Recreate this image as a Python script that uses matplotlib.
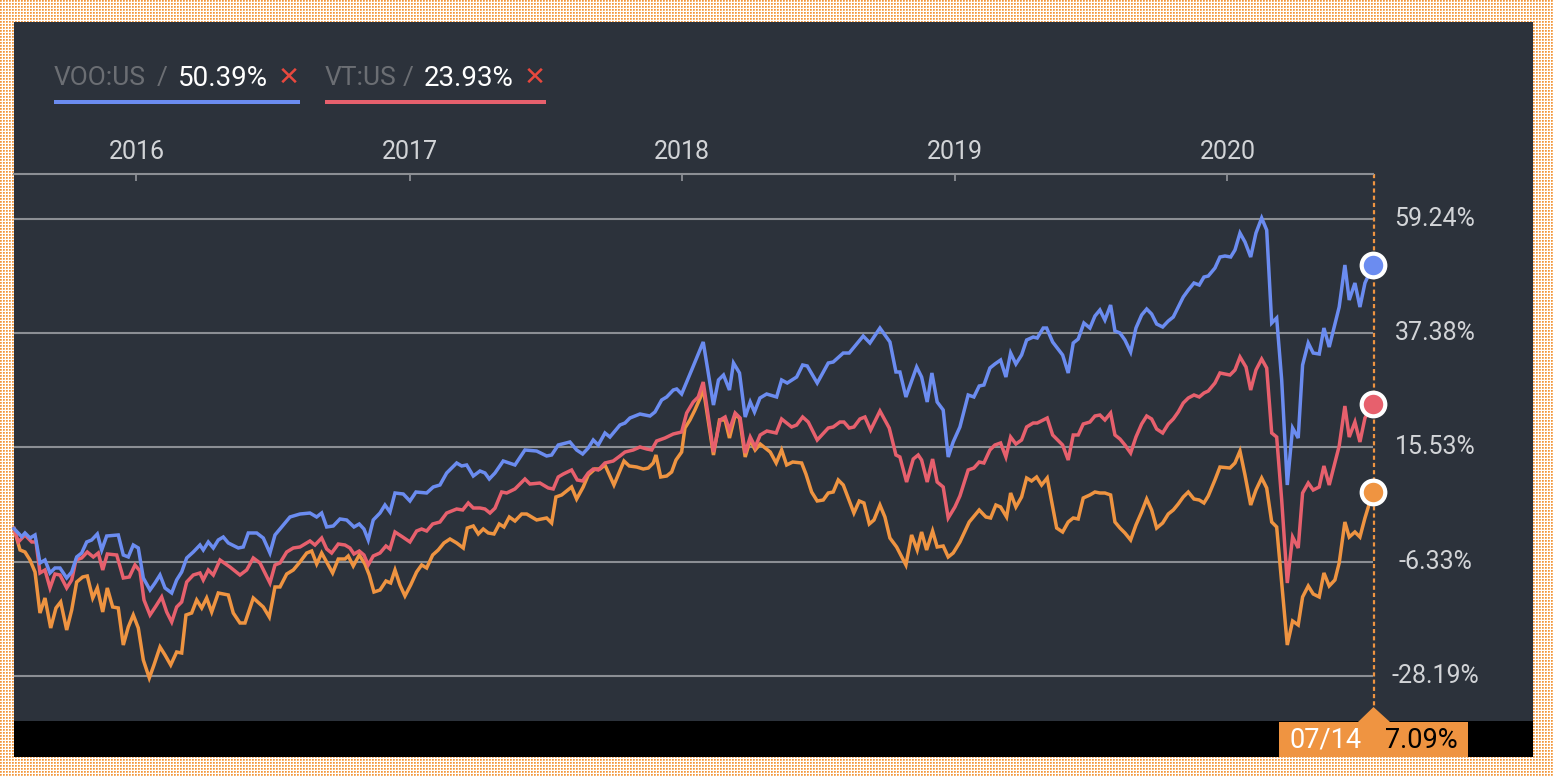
import numpy as np
import pandas as pd
import matplotlib
matplotlib.use('Agg')
import matplotlib.pyplot as plt
import matplotlib.dates as mdates
from matplotlib.patches import Rectangle, Polygon
from matplotlib.lines import Line2D

plt.rcParams['font.family'] = ['Roboto', 'DejaVu Sans']
plt.rcParams['lines.scale_dashes'] = False

# ---------------- data (weekly, weeks since start date, cumulative % change) ----------------
START = pd.Timestamp('2015-07-21')

voo_weeks = [0, 1.47, 2.10, 3.06, 4.02, 4.97, 5.93, 6.89, 7.84, 8.80, 10.08, 11.04, 11.99, 12.95, 13.91,
             14.86, 15.94, 16.78, 17.73, 19.95, 20.91, 21.87, 22.82, 23.78, 24.74, 26.02, 26.97, 27.93,
             28.89, 30.17, 31.12, 32.08, 33.04, 34.30, 35.58, 36.21, 37.17, 38.13, 39.08, 40.04, 41.00,
             42.91, 43.86, 44.82, 46.43, 47.69, 48.97, 49.93, 51.52, 52.80, 54.71, 56.62, 57.90, 58.86,
             59.82, 61.08, 62.36, 63.64, 65.04, 66.05, 66.95, 67.77, 68.73, 70.02, 70.97, 71.93, 72.89,
             74.47, 75.75, 76.90, 78.95, 80.21, 81.49, 82.78, 84.69, 85.65, 86.60, 87.87, 89.15, 90.10,
             90.93, 92.02, 93.60, 95.84, 97.75, 99.99, 101.90, 102.86, 104.12, 106.36, 107.64, 108.79,
             109.86, 110.82, 111.78, 113.06, 114.01, 115.93, 116.89, 117.84, 119.76, 121.67, 122.63,
             123.91, 124.87, 126.13, 126.78, 127.73, 128.69, 129.65, 131.86, 133.82, 134.78, 135.74,
             136.88, 137.65, 138.80, 139.89, 140.85, 141.67, 142.71, 143.99, 145.90, 146.86, 147.93,
             149.73, 150.88, 151.76, 153.67, 155.78, 156.73, 158.65, 159.79, 162.47, 163.75, 165.67,
             167.58, 168.73, 169.49, 170.64, 172.69, 173.64, 174.71, 175.61, 176.62, 177.77, 178.73,
             179.68, 180.97, 182.55, 183.64, 184.66, 185.56, 186.71, 187.66, 188.75, 189.77, 190.67,
             191.68, 192.77, 193.73, 194.99, 195.76, 196.91, 197.56, 198.71, 200.62, 201.69, 202.65,
             203.60, 204.69, 205.84, 206.80, 207.75, 208.71, 209.80, 210.63, 211.59, 212.54, 213.63,
             214.65, 215.74, 216.70, 217.65, 218.61, 219.76, 220.83, 221.79, 222.74, 223.70, 224.66,
             225.75, 226.76, 227.66, 228.48, 229.76, 230.72, 231.68, 232.77, 233.59, 234.55, 235.51,
             236.60, 237.61, 238.70, 239.66, 240.62, 241.57, 242.53, 243.60, 244.62, 245.69, 246.53,
             247.61, 248.56, 249.71, 250.61, 251.62, 253.53, 254.62, 255.45, 256.54, 257.50, 258.46, 260]
voo_pct = [0.0, -1.55, -0.84, -1.80, -1.22, -6.58, -6.01, -8.49, -7.54, -7.54, -9.45, -8.30, -5.43, -4.67,
           -2.56, -2.18, -1.03, -4.09, -1.42, -1.22, -5.05, -5.43, -3.14, -3.71, -9.45, -11.75, -10.41,
           -8.88, -11.36, -12.32, -9.83, -8.30, -5.62, -4.48, -3.14, -4.09, -2.56, -3.71, -2.18, -1.61,
           -2.75, -3.71, -3.52, -0.84, -0.84, -1.80, -4.67, -1.22, 0.69, 2.22, 2.79, 2.98, 2.22, 2.98,
           0.31, 0.50, 1.84, 1.65, 0.31, 0.88, -0.08, -2.18, 1.65, 2.98, 4.51, 3.18, 6.81, 6.62, 5.28,
           7.00, 6.81, 7.96, 8.34, 10.64, 12.55, 11.98, 12.17, 10.06, 11.02, 10.64, 9.49, 10.64, 12.93,
           12.17, 15.04, 14.84, 13.89, 14.08, 15.99, 16.57, 15.04, 14.27, 15.42, 16.95, 15.99, 18.29,
           17.52, 19.82, 20.20, 21.16, 21.92, 21.54, 22.31, 24.60, 25.18, 26.51, 26.71, 25.75, 28.04,
           30.34, 35.70, 23.64, 28.43, 29.38, 26.51, 31.68, 29.77, 21.35, 24.22, 22.31, 24.98, 25.75,
           25.18, 28.43, 27.85, 29.00, 31.30, 31.11, 27.85, 31.68, 31.87, 33.59, 33.59, 36.84, 35.51,
           38.37, 35.70, 29.96, 29.96, 25.18, 30.91, 29.00, 24.22, 29.77, 24.22, 22.69, 13.70, 16.57,
           19.44, 25.56, 25.18, 27.28, 27.47, 30.72, 31.49, 32.25, 29.00, 33.59, 31.49, 33.21, 36.08,
           36.65, 36.46, 38.37, 38.37, 35.70, 33.21, 29.77, 35.51, 36.27, 39.33, 38.37, 40.67, 41.82,
           39.90, 42.77, 37.80, 37.42, 36.08, 33.78, 38.37, 40.86, 42.01, 41.05, 39.14, 38.57, 39.71,
           40.48, 42.39, 44.31, 45.64, 46.98, 46.60, 48.13, 48.32, 49.85, 51.96, 52.15, 51.96, 53.30,
           56.55, 54.83, 51.96, 56.55, 59.42, 57.12, 39.33, 40.29, 28.43, 8.34, 19.24, 17.33, 31.30,
           35.51, 33.59, 33.40, 38.37, 34.74, 42.39, 50.43, 43.73, 46.98, 42.39, 46.98, 50.39]

vt_weeks = [0, 0.82, 2.10, 3.39, 4.21, 4.97, 5.93, 6.89, 7.84, 8.80, 10.08, 11.04, 11.86, 12.95, 14.02,
            15.17, 16.12, 16.97, 17.85, 19.65, 20.91, 22.06, 23.15, 24.10, 24.87, 26.02, 27.16, 28.25,
            29.21, 30.17, 31.12, 32.08, 33.04, 34.30, 35.58, 36.21, 37.17, 38.13, 39.41, 41.32, 43.23,
            44.51, 45.78, 47.06, 48.97, 49.93, 50.89, 52.17, 53.43, 54.71, 56.62, 57.58, 58.86, 59.82,
            60.77, 62.04, 63.32, 64.27, 65.04, 66.05, 66.95, 67.77, 68.73, 70.02, 71.16, 71.93, 72.89,
            74.36, 75.75, 77.03, 77.99, 78.95, 80.10, 81.49, 82.78, 84.69, 85.84, 86.91, 87.87, 89.15,
            90.10, 91.06, 92.02, 93.30, 94.26, 95.84, 97.75, 98.71, 100.62, 102.21, 103.16, 104.12,
            105.08, 106.68, 107.76, 108.79, 109.86, 110.82, 111.78, 113.06, 114.64, 115.93, 116.89,
            118.47, 119.76, 121.04, 122.00, 122.95, 124.54, 126.13, 127.73, 128.69, 129.95, 130.91,
            131.86, 133.82, 135.10, 136.05, 136.88, 137.97, 138.92, 139.89, 140.85, 141.80, 142.76,
            144.04, 145.82, 146.86, 148.77, 149.73, 150.88, 151.95, 153.67, 155.78, 156.73, 158.01,
            158.78, 159.79, 160.69, 161.84, 162.80, 163.89, 165.67, 167.45, 168.73, 169.49, 170.77,
            172.04, 172.99, 173.64, 174.71, 175.74, 176.62, 177.77, 178.73, 180.01, 180.97, 182.55,
            183.64, 184.66, 185.56, 186.71, 187.66, 188.75, 189.77, 190.67, 191.68, 192.77, 193.73,
            194.99, 195.76, 197.67, 198.71, 200.62, 201.69, 202.65, 203.60, 204.56, 205.84, 206.80,
            207.75, 208.71, 209.80, 210.63, 211.59, 212.54, 213.63, 214.65, 215.74, 216.70, 217.65,
            218.61, 219.76, 220.83, 221.79, 222.74, 223.70, 224.66, 225.75, 226.76, 227.66, 228.48,
            229.76, 230.72, 232.63, 233.59, 234.55, 235.70, 236.60, 237.61, 238.70, 239.66, 240.62,
            241.57, 242.53, 243.60, 244.62, 245.69, 246.53, 247.61, 248.56, 249.71, 250.61, 251.62,
            253.53, 254.62, 255.45, 256.54, 257.50, 258.46, 260]
vt_pct = [0.0, -2.56, -1.22, -2.56, -2.56, -8.49, -7.92, -11.36, -8.69, -8.88, -11.36, -9.83, -6.01,
          -5.62, -4.48, -5.43, -4.67, -7.92, -4.86, -5.05, -9.45, -9.26, -6.96, -8.11, -13.66, -16.53,
          -14.81, -13.08, -15.95, -17.87, -15.00, -14.04, -10.22, -8.88, -8.49, -9.83, -7.92, -8.88,
          -6.01, -7.35, -8.88, -7.92, -5.62, -6.58, -10.41, -6.96, -6.58, -4.48, -3.71, -3.52, -2.37,
          -3.14, -1.80, -3.90, -4.67, -2.95, -3.14, -3.71, -4.86, -4.29, -5.05, -6.96, -5.24, -4.67,
          -3.33, -3.90, -0.65, -1.61, -2.56, -0.46, -0.08, -0.46, 0.88, 1.26, 2.98, 3.75, 3.56, 4.90,
          3.94, 3.94, 3.75, 2.98, 3.90, 7.00, 6.81, 7.58, 9.49, 8.53, 8.72, 7.77, 7.58, 9.87, 10.44,
          11.21, 9.30, 9.11, 10.64, 11.40, 11.21, 12.55, 12.93, 13.89, 14.65, 15.04, 15.61, 15.23,
          15.04, 16.76, 17.33, 18.10, 18.48, 22.11, 24.22, 25.18, 28.04, 14.65, 20.78, 21.35, 18.86,
          22.11, 21.16, 14.46, 17.52, 15.61, 17.91, 18.67, 18.29, 20.97, 19.44, 19.82, 21.35, 20.39,
          16.95, 19.24, 19.44, 20.39, 20.39, 19.24, 19.44, 20.97, 21.35, 18.86, 22.50, 19.24, 14.08,
          13.70, 8.91, 13.31, 14.08, 13.12, 8.91, 13.31, 8.91, 7.96, 2.03, 4.13, 6.24, 11.21, 11.59,
          12.74, 12.55, 15.04, 15.99, 16.38, 13.70, 17.52, 16.18, 16.95, 19.44, 20.20, 20.20, 21.16,
          17.91, 15.99, 13.12, 17.91, 17.91, 20.01, 20.39, 21.54, 21.73, 20.78, 22.11, 17.91, 17.14,
          15.99, 14.46, 17.52, 20.01, 21.54, 20.97, 19.05, 18.29, 20.01, 20.97, 22.31, 24.03, 24.98,
          25.56, 25.18, 25.94, 26.32, 27.85, 29.77, 29.38, 30.34, 32.83, 30.91, 26.51, 30.34, 32.44,
          30.72, 18.29, 17.52, 5.47, -10.41, -1.61, -3.71, 6.81, 8.72, 7.38, 7.96, 11.98, 8.34, 15.80,
          23.45, 17.52, 20.39, 16.57, 21.16, 23.93]

main_weeks = [0, 1.15, 2.10, 3.06, 4.02, 4.97, 5.93, 7.02, 8.03, 8.93, 10.08, 11.04, 11.99, 13.14, 14.02,
              15.06, 15.94, 16.97, 17.85, 18.88, 19.95, 20.91, 21.87, 22.82, 23.78, 24.74, 25.88, 26.78,
              27.93, 28.89, 29.98, 31.12, 32.08, 32.90, 33.99, 34.95, 35.91, 36.86, 37.82, 39.08, 41.00,
              41.95, 43.23, 44.19, 45.78, 47.69, 48.84, 49.93, 50.89, 52.17, 53.43, 54.71, 56.00, 56.95,
              57.91, 58.86, 60.96, 62.04, 63.32, 63.95, 64.91, 66.05, 67.14, 67.97, 68.87, 70.02, 71.16,
              72.06, 72.89, 73.84, 74.80, 75.89, 77.03, 77.99, 78.95, 80.10, 81.17, 82.26, 83.41, 84.69,
              85.95, 86.72, 87.87, 88.83, 89.78, 90.74, 91.83, 92.84, 93.74, 94.76, 95.84, 97.13, 98.08,
              99.99, 101.90, 102.86, 103.68, 104.77, 106.68, 107.64, 108.90, 109.86, 111.14, 112.10,
              113.06, 114.78, 116.70, 117.71, 119.13, 120.39, 121.35, 122.30, 122.82, 123.72, 124.87,
              125.82, 126.65, 127.73, 128.36, 129.32, 130.27, 131.36, 131.86, 133.82, 134.97, 136.05,
              136.88, 137.97, 138.80, 139.89, 140.85, 141.80, 142.76, 143.72, 144.68, 145.82, 146.86,
              147.82, 148.98, 150.69, 151.51, 152.60, 153.67, 154.82, 155.78, 156.73, 157.69, 158.65,
              159.60, 160.69, 161.71, 162.61, 163.63, 164.53, 165.67, 166.62, 167.58, 168.86, 170.64,
              171.73, 172.80, 173.64, 174.60, 175.74, 176.62, 177.77, 178.73, 179.68, 180.97, 182.75,
              184.66, 185.94, 186.84, 187.85, 188.75, 189.90, 190.67, 191.68, 192.77, 193.73, 194.68,
              195.64, 196.60, 197.67, 198.71, 199.48, 200.62, 201.69, 202.65, 203.60, 204.56, 205.84,
              206.80, 207.75, 208.71, 209.80, 210.63, 211.59, 212.54, 213.63, 214.65, 215.74, 216.70,
              217.65, 218.61, 219.76, 220.83, 221.79, 222.74, 223.70, 224.66, 225.75, 226.76, 227.66,
              228.48, 229.76, 230.72, 232.63, 233.59, 234.55, 235.51, 236.60, 237.61, 238.70, 239.66,
              240.62, 241.57, 242.53, 243.60, 244.62, 245.69, 246.53, 247.61, 248.56, 249.71, 250.61,
              251.62, 252.71, 253.53, 254.62, 255.45, 256.54, 257.50, 258.46, 260]
main_pct = [0.0, -4.09, -4.48, -6.01, -8.30, -16.15, -13.28, -19.02, -15.19, -14.04, -19.40, -15.57,
            -10.22, -9.26, -9.07, -13.28, -11.36, -15.95, -11.36, -15.00, -15.19, -22.27, -18.82, -16.53,
            -19.02, -25.14, -28.58, -26.09, -22.65, -24.18, -26.09, -23.61, -23.80, -16.53, -16.15,
            -13.66, -15.19, -13.28, -15.95, -12.32, -12.70, -16.15, -18.06, -18.06, -13.28, -15.00,
            -16.91, -11.17, -11.17, -8.69, -7.92, -6.39, -4.67, -4.29, -6.77, -4.67, -8.49, -5.82, -5.82,
            -5.24, -7.15, -5.05, -6.77, -8.88, -12.13, -11.75, -10.02, -10.41, -7.92, -10.79, -12.89,
            -10.79, -8.30, -6.96, -7.54, -5.05, -4.09, -2.75, -1.99, -2.75, -3.71, 0.11, 0.50, -1.03,
            -0.08, -0.84, -1.03, 0.88, 0.31, 2.22, 1.45, 2.79, 2.79, 1.65, 2.03, 1.07, 6.05, 6.43, 7.96,
            5.66, 7.96, 10.25, 11.40, 11.40, 12.17, 8.34, 12.93, 11.98, 11.78, 11.40, 11.59, 12.55,
            14.08, 9.87, 10.06, 10.83, 13.12, 14.65, 19.24, 20.78, 22.69, 25.18, 26.90, 14.08, 20.78,
            20.78, 17.33, 21.73, 21.16, 13.70, 16.95, 15.04, 16.18, 15.42, 14.65, 12.55, 15.04, 12.17,
            12.74, 12.55, 10.44, 7.00, 5.28, 5.47, 6.81, 7.00, 9.30, 8.34, 5.85, 2.98, 5.28, 4.90, 0.88,
            1.65, 4.51, 2.22, -1.80, -3.52, -6.96, -1.22, -4.09, -0.65, -4.09, -0.46, -3.52, -3.33,
            -5.43, -4.67, -2.56, 1.26, 3.56, 2.22, 2.03, 4.51, 4.13, 2.22, 6.81, 4.13, 6.05, 9.68, 9.11,
            9.87, 8.34, 9.68, 4.13, 0.11, -0.65, 1.26, 2.03, 1.84, 5.85, 6.43, 7.00, 6.81, 6.81, 6.43,
            1.26, 0.11, -0.84, -2.18, 0.69, 3.18, 5.66, 3.56, 0.11, 1.07, 2.79, 3.56, 4.71, 6.05, 7.00,
            5.66, 5.47, 4.90, 6.24, 9.30, 11.78, 11.59, 12.55, 14.84, 10.25, 4.51, 7.38, 9.68, 7.77,
            1.26, 0.31, -10.41, -22.27, -17.68, -18.44, -13.08, -10.98, -12.51, -13.08, -8.49, -10.98,
            -9.83, -6.58, 1.26, -1.61, -0.65, -1.61, 2.03, 7.09]

series_names = ['VOO:US', 'VT:US']
y_ticks = [59.24, 37.38, 15.53, -6.33, -28.19]
year_ticks = ['2016', '2017', '2018', '2019', '2020']

# ---------------- styling ----------------
W, H = 1554, 776
PANEL = '#2c323b'
BLUE = '#6b8cf0'
RED = '#e7606d'
ORANGE = '#ef9441'
GRID = '#8c8f94'
GRAYTXT = '#6b6e73'
LABEL = '#d2d4d7'
XRED = '#e8483e'


def fx(x):
    return x / W


def fy(y):
    return 1 - y / H


def to_dates(weeks):
    return START + pd.to_timedelta(np.asarray(weeks, dtype=float) * 7, unit='D')


fig = plt.figure(figsize=(W / 100, H / 100), dpi=100)
fig.patch.set_facecolor('white')

# dotted orange frame pattern (3px cells: orange 2x2 block with a white gap)
yy, xx = np.mgrid[0:H, 0:W]
pattern = np.ones((H, W, 3))
cy, cx = yy % 3, xx % 3
pattern[(cy == 0) & (cx == 0)] = np.array([242, 152, 62]) / 255.0
pattern[((cy == 0) & (cx == 1)) | ((cy == 1) & (cx == 0))] = np.array([245, 172, 100]) / 255.0
pattern[(cy == 1) & (cx == 1)] = np.array([248, 196, 140]) / 255.0
fig.figimage(pattern, 0, 0, zorder=-10)

# dark panel and black footer bar
fig.add_artist(Rectangle((fx(14), fy(721)), (1533 - 14) / W, (721 - 22) / H,
                         transform=fig.transFigure, facecolor=PANEL, edgecolor='none', zorder=-5))
fig.add_artist(Rectangle((fx(14), fy(757)), (1533 - 14) / W, (757 - 721) / H,
                         transform=fig.transFigure, facecolor='black', edgecolor='none', zorder=-5))

# vertical dotted cursor line (below the axes content)
cursor = Line2D([fx(1373.5), fx(1373.5)], [fy(174), fy(708)], transform=fig.transFigure,
                color=ORANGE, lw=1.6, zorder=-1)
cursor.set_dashes([3, 2.2])
fig.add_artist(cursor)

# ---------------- axes ----------------
ax = fig.add_axes([fx(14), fy(720), (1373 - 14) / W, (720 - 174) / H])
ax.set_facecolor('none')
end_date = to_dates([260])[0]
ax.set_xlim(START, end_date)
ax.set_ylim(-36.62, 67.84)

for v in y_ticks:
    ax.axhline(v, color=GRID, lw=1.5, zorder=1)
    ax.annotate(f'{v:.2f}%', xy=(1, v), xycoords=('axes fraction', 'data'),
                xytext=(62, 0), textcoords='offset pixels', ha='center', va='center',
                color=LABEL, fontsize=18, annotation_clip=False)

series = [(main_weeks, main_pct, ORANGE), (vt_weeks, vt_pct, RED), (voo_weeks, voo_pct, BLUE)]
for wk, pc, col in series:
    ax.plot(to_dates(wk), pc, color=col, lw=2.5, zorder=3, solid_joinstyle='miter', clip_on=False)

for wk, pc, col in series:
    ax.plot([to_dates([wk[-1]])[0]], [pc[-1]], marker='o', ms=17, mfc=col, mec='white', mew=3.0,
            zorder=6, clip_on=False)

ax.xaxis.tick_top()
ax.set_xticks([pd.Timestamp(f'{y}-01-01') for y in year_ticks])
ax.set_xticklabels(year_ticks)
ax.tick_params(axis='x', which='both', direction='in', length=5, width=1.3, color=GRID,
               labelcolor=LABEL, labelsize=18, pad=7.5, top=True, bottom=False)
ax.set_yticks([])
for s in ['left', 'right', 'bottom']:
    ax.spines[s].set_visible(False)
ax.spines['top'].set_color(GRID)
ax.spines['top'].set_linewidth(1.5)

# cursor label with pointer
poly = Polygon([(fx(1279), fy(757)), (fx(1279), fy(722)), (fx(1358), fy(722)), (fx(1373.5), fy(707)),
                (fx(1390), fy(722)), (fx(1468), fy(722)), (fx(1468), fy(757))],
               closed=True, transform=fig.transFigure, facecolor=ORANGE, edgecolor='none', zorder=4)
fig.add_artist(poly)
fig.text(fx(1326), fy(740), end_date.strftime('%m/%d'), color='white', fontsize=19.5,
         ha='center', va='center', zorder=5)
fig.text(fx(1421), fy(740), f'{main_pct[-1]:.2f}%', color='black', fontsize=19.5,
         ha='center', va='center', zorder=5)

# legend entries
legend = [
    (series_names[0], voo_pct[-1], BLUE, 54, 162, 178, 289, 300),
    (series_names[1], vt_pct[-1], RED, 325, 408, 424, 535, 546),
]
for name, val, col, x0, xs, xv, xx_, x1 in legend:
    fig.text(fx(x0), fy(78), name, color=GRAYTXT, fontsize=19, ha='left', va='center')
    fig.text(fx(xs), fy(78), '/', color=GRAYTXT, fontsize=19, ha='center', va='center')
    fig.text(fx(xv), fy(78), f'{val:.2f}%', color='white', fontsize=20, ha='left', va='center')
    fig.text(fx(xx_), fy(78), '\u2715', color=XRED, fontsize=19, ha='center', va='center',
             family='DejaVu Sans')
    fig.add_artist(Rectangle((fx(x0), fy(103.5)), (x1 - x0) / W, 4 / H, transform=fig.transFigure,
                             facecolor=col, edgecolor='none'))

fig.savefig('out.png', dpi=100)
